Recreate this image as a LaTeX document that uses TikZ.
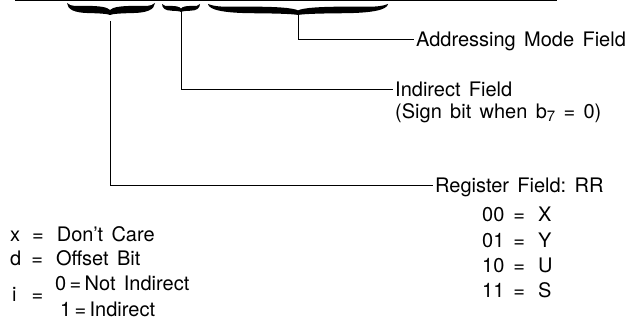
\documentclass[tikz,border=0pt]{standalone}
\usepackage{fontspec}
\setmainfont[WordSpace=1.5]{TeX Gyre Heros}
\newcommand\halfbr[2]{%
  \fill (-#1,-#2) .. controls (-0.9*#1,-0.68*#2) and (-0.8*#1,-0.76*#2) .. (-0.55*#1,-0.76*#2)
    .. controls (-0.25*#1,-0.76*#2) and (-0.06*#1,-0.66*#2) .. (0,-0.42*#2) -- (0,0)
    .. controls (-0.04*#1,-0.08*#2) and (-0.2*#1,-0.14*#2) .. (-0.5*#1,-0.16*#2)
    .. controls (-0.82*#1,-0.18*#2) and (-0.99*#1,-0.45*#2) .. cycle;}
\newcommand\ubr[5]{%
  \begin{scope}[shift={(#2,#4)}]
    \pgfmathsetmacro\wl{#2-#1}\pgfmathsetmacro\wr{#3-#2}
    \halfbr{\wl}{#5}
    \begin{scope}[xscale=-1]\halfbr{\wr}{#5}\end{scope}
  \end{scope}}
\begin{document}
\begin{tikzpicture}[x=1pt,y=-1pt,
  lbl/.style={anchor=base west, inner xsep=0pt, inner ysep=0pt, text height=14pt, text depth=0pt, font=\fontsize{20}{24}\selectfont},
  conn/.style={line width=1pt, shorten >=2.5pt}]
\useasboundingbox (0,0) rectangle (628,320);
\draw[line width=1.2pt] (15,0.8) -- (557,0.8);
\ubr{67}{110}{155}{15}{12}
\ubr{162}{181}{200}{12}{8}
\ubr{208}{298}{388}{15}{11}
\coordinate (t1) at (110,21);
\coordinate (t2) at (181,11);
\coordinate (t3) at (298,14);
\node[lbl] (addr) at (416,47) {Addressing Mode Field};
\node[lbl] (ind) at (395,97) {Indirect Field};
\node[lbl] (sign) at (395,119) {(Sign bit when b\raisebox{-3pt}{\fontsize{15}{15}\selectfont 7}\ =\ 0)};
\node[lbl] (reg) at (435,193) {Register Field:\ RR};
\node[lbl] (r0) at (482,222) {00\hspace{9pt}=\hspace{13pt}X};
\node[lbl] (r1) at (482,247) {01\hspace{9pt}=\hspace{13pt}Y};
\node[lbl] (r2) at (482,272) {10\hspace{9pt}=\hspace{13pt}U};
\node[lbl] (r3) at (482,297) {11\hspace{9pt}=\hspace{13pt}S};
\node[lbl] (lx) at (10,241) {x\hspace{12pt}=\hspace{13pt}Don’t Care};
\node[lbl] (ld) at (10,265) {d\hspace{10pt}=\hspace{13pt}Offset Bit};
\node[lbl] (li) at (12,301) {i\hspace{15pt}=};
\node[lbl] (l0) at (55,290) {0\,=\,Not Indirect};
\node[lbl] (l1) at (60,316) {1\,=\,Indirect};
\draw[conn] (t3) |- (addr.west);
\draw[conn] (t2) |- (ind.west);
\draw[conn] (t1) |- (reg.west);
\end{tikzpicture}
\end{document}
